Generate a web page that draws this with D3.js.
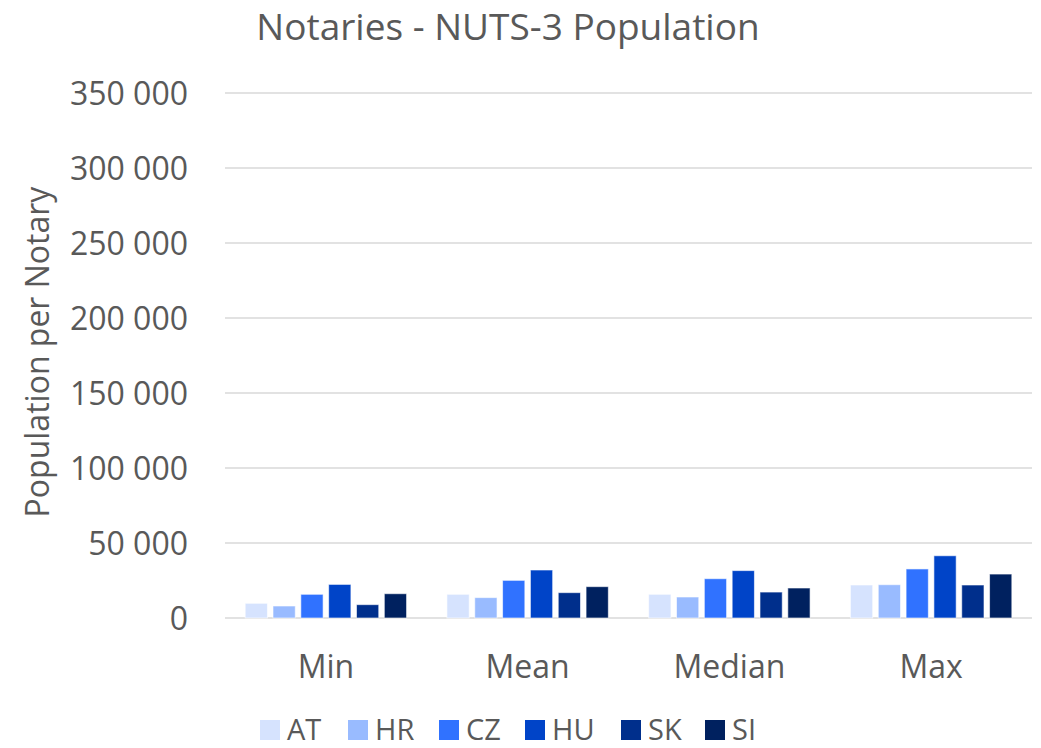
<!DOCTYPE html>
<html>
<head>
<meta charset="utf-8">
<script src="https://cdn.jsdelivr.net/npm/d3@7"></script>
<style>
  body { margin: 0; background: #fff; }
  text { font-family: "Open Sans", sans-serif; fill: #595959; }
</style>
</head>
<body>
<svg id="chart"></svg>
<script>
// Notaries per NUTS-3 population, grouped bars
const categories = ["Min", "Mean", "Median", "Max"];
const series = ["AT", "HR", "CZ", "HU", "SK", "SI"];
const colors = ["#d6e3fe", "#99bbff", "#3072ff", "#0044c8", "#002f8c", "#00215f"];
const valuesAT = [9800, 15800, 15800, 22000];
const valuesHR = [8000, 13600, 14000, 22200];
const valuesCZ = [15800, 25100, 26200, 32700];
const valuesHU = [22400, 32000, 31600, 41500];
const valuesSK = [8900, 16900, 17300, 22000];
const valuesSI = [16200, 20900, 20000, 29300];
const yTicks = [0, 50000, 100000, 150000, 200000, 250000, 300000, 350000];

const seriesValues = [valuesAT, valuesHR, valuesCZ, valuesHU, valuesSK, valuesSI];

const width = 1041, height = 748;
const margin = { top: 93, right: 9, bottom: 130, left: 225 };

const svg = d3.select("#chart")
    .attr("width", width)
    .attr("height", height);

const x0 = d3.scaleBand()
    .domain(categories)
    .range([margin.left, width - margin.right])
    .paddingInner(0.2)
    .paddingOuter(0.1);

const x1 = d3.scaleBand()
    .domain(series)
    .range([0, x0.bandwidth()])
    .paddingInner(0.2);

const y = d3.scaleLinear()
    .domain([0, 350000])
    .range([height - margin.bottom, margin.top]);

const fmt = v => d3.format(",")(v).replace(/,/g, " ");

// gridlines
svg.append("g")
    .selectAll("line")
    .data(yTicks)
    .enter()
    .append("line")
    .attr("x1", margin.left)
    .attr("x2", width - margin.right)
    .attr("y1", d => y(d))
    .attr("y2", d => y(d))
    .style("stroke", "#d9d9d9")
    .style("stroke-width", "1.5px");

// y tick labels
svg.append("g")
    .selectAll("text")
    .data(yTicks)
    .enter()
    .append("text")
    .attr("x", 188)
    .attr("y", d => y(d))
    .attr("dy", "0.36em")
    .style("text-anchor", "end")
    .style("font-size", "32px")
    .text(d => fmt(d));

// bars
const groups = svg.append("g")
    .selectAll("g")
    .data(categories)
    .enter()
    .append("g")
    .attr("transform", d => `translate(${x0(d)},0)`);

groups.selectAll("rect")
    .data((c, ci) => series.map((s, si) => ({ s, si, v: seriesValues[si][ci] })))
    .enter()
    .append("rect")
    .attr("x", d => x1(d.s))
    .attr("y", d => y(d.v))
    .attr("width", x1.bandwidth())
    .attr("height", d => y(0) - y(d.v))
    .style("fill", d => colors[d.si])
    .style("stroke", "rgba(255,255,255,0.6)")
    .style("stroke-width", "1px");

// category labels
svg.append("g")
    .selectAll("text")
    .data(categories)
    .enter()
    .append("text")
    .attr("x", d => x0(d) + x0.bandwidth() / 2)
    .attr("y", 678)
    .style("text-anchor", "middle")
    .style("font-size", "32px")
    .text(d => d);

// title
svg.append("text")
    .attr("x", 508)
    .attr("y", 40)
    .style("text-anchor", "middle")
    .style("font-size", "37px")
    .text("Notaries - NUTS-3 Population");

// y axis title
svg.append("text")
    .attr("transform", "translate(49, 352) rotate(-90)")
    .style("text-anchor", "middle")
    .style("font-size", "32px")
    .text("Population per Notary");

// legend
const legendX = [260, 348, 439, 525, 621, 705];
const legend = svg.append("g")
    .selectAll("g")
    .data(series)
    .enter()
    .append("g")
    .attr("transform", (d, i) => `translate(${legendX[i]}, 720)`);

legend.append("rect")
    .attr("width", 20)
    .attr("height", 20)
    .style("fill", (d, i) => colors[i]);

legend.append("text")
    .attr("x", 27)
    .attr("y", 20)
    .style("font-size", "29px")
    .text(d => d);
</script>
</body>
</html>
